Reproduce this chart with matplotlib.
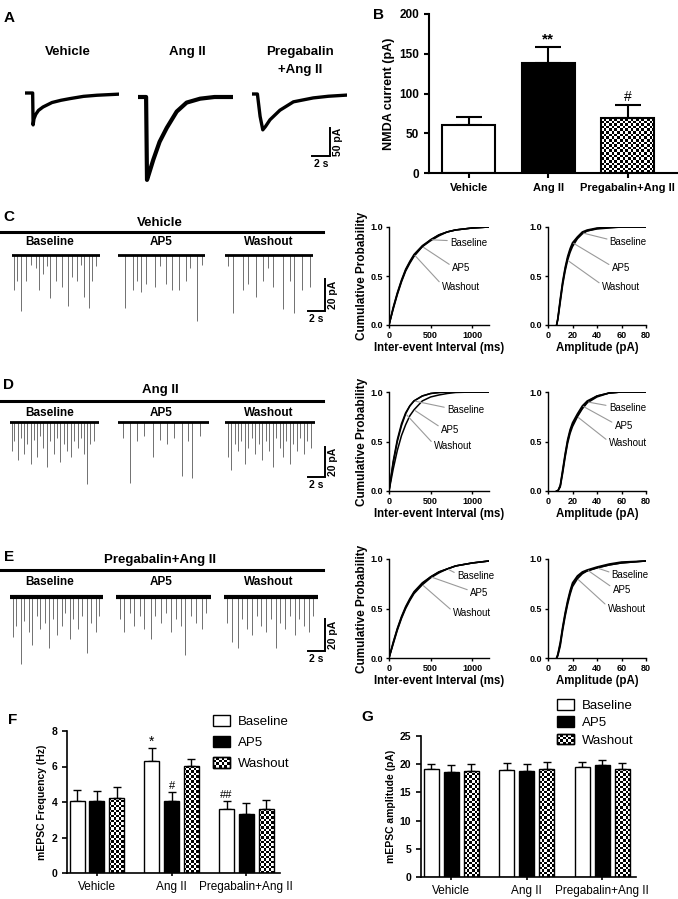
import numpy as np
import matplotlib
matplotlib.use('Agg')
import matplotlib.pyplot as plt
from matplotlib.patches import Patch, Rectangle
from matplotlib.lines import Line2D
from matplotlib.legend_handler import HandlerBase
from matplotlib.ticker import FormatStrFormatter

plt.rcParams['font.family'] = ['Liberation Sans', 'DejaVu Sans']

# ---------------- data ----------------
groups = ['Vehicle', 'Ang II', 'Pregabalin+Ang II']
conds = ['Baseline', 'AP5', 'Washout']

# A: NMDA current traces (s, pA)
veh_t = [0, 0.85, 0.9, 1.0, 1.2, 1.5, 2.0, 2.5, 3.0, 4.0, 5.0, 6.5, 8.0, 10.5]
veh_i = [0, 0, -57, -46, -38, -31, -25, -21, -17, -13, -10, -6, -4, -2]
ang_t = [0, 0.9, 1.0, 1.2, 1.7, 2.4, 3.2, 4.3, 5.4, 6.9, 8.5, 10.5]
ang_i = [0, 0, -148, -138, -112, -80, -55, -26, -10, -3, 0, 0]
preg_t = [0, 0.6, 0.9, 1.2, 1.5, 2.0, 3.1, 4.6, 6.8, 8.5, 10.5]
preg_i = [0, 0, -40, -64, -58, -46, -29, -14, -7, -4, -2]

# B: NMDA current
nmda_mean = [60, 138, 69]
nmda_sem = [10, 20, 16]

# C-E: mEPSC events (time s, amplitude pA)
veh_base_t = [0.2, 0.6, 1.05, 1.7, 2.3, 2.8, 3.2, 3.7, 4.1, 4.55, 5.2, 5.95, 6.6, 7.1, 7.65, 8.1, 8.55, 9.05, 9.5, 9.9]
veh_base_a = [22, 16, 35, 16, 6, 8, 22, 12, 7, 27, 16, 20, 32, 14, 16, 6, 26, 33, 16, 7]
veh_ap5_t = [0.8, 1.8, 2.25, 2.8, 3.4, 4.4, 5.0, 5.75, 6.5, 7.3, 8.1, 8.6, 9.5, 10.0]
veh_ap5_a = [33, 22, 16, 23, 18, 20, 7, 18, 22, 22, 16, 8, 41, 6]
veh_wash_t = [0.4, 1.0, 2.1, 2.7, 3.7, 4.5, 5.1, 5.7, 6.9, 7.7, 8.1, 9.1, 10.1]
veh_wash_a = [7, 36, 22, 18, 26, 16, 8, 20, 34, 16, 36, 22, 20]

ang_base_t = [0.2, 0.5, 0.9, 1.3, 1.6, 2.0, 2.4, 2.8, 3.1, 3.5, 3.9, 4.3, 4.7, 5.1, 5.5, 5.9, 6.3, 6.7, 7.1, 7.5, 7.9, 8.3, 8.7, 9.0, 9.4, 9.8]
ang_base_a = [18, 12, 24, 10, 20, 14, 26, 11, 22, 9, 16, 28, 12, 20, 10, 25, 14, 18, 22, 12, 16, 10, 20, 39, 14, 12]
ang_ap5_t = [0.6, 1.4, 2.2, 3.0, 4.0, 4.8, 5.6, 6.4, 7.3, 8.0, 8.5, 9.4]
ang_ap5_a = [10, 38, 12, 9, 22, 11, 14, 10, 34, 12, 35, 9]
ang_wash_t = [0.3, 0.7, 1.1, 1.5, 1.9, 2.3, 2.7, 3.1, 3.5, 3.9, 4.3, 4.7, 5.1, 5.5, 5.9, 6.3, 6.7, 7.1, 7.5, 7.9, 8.3, 8.7, 9.1, 9.5, 9.9]
ang_wash_a = [22, 30, 14, 18, 12, 26, 16, 10, 20, 14, 24, 12, 18, 28, 10, 16, 22, 12, 26, 14, 18, 10, 20, 12, 16]

preg_base_t = [0.3, 0.7, 1.2, 1.6, 2.1, 2.5, 3.0, 3.4, 3.9, 4.4, 4.8, 5.3, 5.8, 6.2, 6.7, 7.1, 7.6, 8.0, 8.6, 9.1, 9.6, 10.0]
preg_base_a = [25, 18, 42, 15, 22, 30, 12, 20, 16, 32, 14, 24, 18, 10, 26, 14, 20, 12, 35, 16, 22, 12]
preg_ap5_t = [0.4, 0.9, 1.5, 2.0, 2.6, 3.1, 3.8, 4.3, 4.9, 5.5, 6.0, 6.6, 7.1, 7.6, 8.2, 8.8, 9.4, 9.9]
preg_ap5_a = [14, 22, 10, 18, 12, 20, 26, 12, 16, 10, 22, 14, 18, 36, 12, 16, 20, 10]
preg_wash_t = [0.3, 0.9, 1.5, 2.0, 2.5, 3.1, 3.6, 4.1, 4.7, 5.2, 5.7, 6.2, 6.8, 7.3, 7.8, 8.3, 8.9, 9.4, 9.9]
preg_wash_a = [16, 28, 32, 14, 20, 24, 12, 18, 22, 14, 32, 16, 20, 12, 24, 14, 18, 22, 12]

# cumulative probability curves
iei_x = [0, 50, 100, 150, 200, 250, 300, 400, 500, 600, 700, 800, 1000, 1200]
veh_iei_base = [0, .17, .32, .45, .56, .64, .71, .80, .87, .92, .95, .97, .99, 1.0]
veh_iei_ap5 = [0, .16, .31, .44, .55, .63, .70, .80, .86, .91, .95, .97, .99, 1.0]
veh_iei_wash = [0, .18, .33, .46, .57, .65, .72, .81, .87, .92, .95, .97, .99, 1.0]
ang_iei_base = [0, .30, .52, .68, .79, .86, .91, .96, .985, .995, 1, 1, 1, 1]
ang_iei_ap5 = [0, .22, .41, .56, .67, .76, .82, .91, .95, .97, .985, .995, 1, 1]
ang_iei_wash = [0, .28, .50, .66, .78, .86, .91, .96, .985, .995, 1, 1, 1, 1]
preg_iei_base = [0, .15, .29, .41, .51, .59, .66, .75, .82, .87, .90, .93, .96, .98]
preg_iei_ap5 = [0, .16, .30, .42, .52, .60, .67, .76, .82, .87, .90, .93, .96, .98]
preg_iei_wash = [0, .14, .28, .40, .50, .58, .65, .74, .81, .86, .90, .93, .96, .98]

amp_x = [7, 8, 10, 12, 14, 16, 18, 20, 24, 28, 32, 40, 50, 60, 80]
veh_amp_base = [0, .06, .25, .43, .57, .68, .76, .82, .89, .94, .96, .985, .995, 1, 1]
veh_amp_ap5 = [0, .07, .27, .45, .59, .70, .78, .84, .90, .95, .97, .99, 1, 1, 1]
veh_amp_wash = [0, .05, .23, .41, .55, .66, .74, .80, .88, .93, .96, .98, .99, 1, 1]
ang_amp_base = [0, 0, .05, .20, .36, .50, .60, .67, .76, .84, .90, .96, .99, 1, 1]
ang_amp_ap5 = [0, 0, .06, .22, .38, .52, .62, .69, .78, .86, .91, .96, .99, 1, 1]
ang_amp_wash = [0, 0, .04, .18, .34, .48, .58, .65, .75, .83, .89, .95, .99, 1, 1]
preg_amp_base = [0, .03, .14, .30, .44, .56, .66, .74, .82, .86, .88, .91, .94, .96, .98]
preg_amp_ap5 = [0, .04, .16, .32, .46, .58, .68, .76, .83, .87, .89, .92, .95, .97, .98]
preg_amp_wash = [0, .02, .12, .28, .42, .54, .64, .72, .80, .85, .88, .91, .94, .96, .98]

# F: mEPSC frequency (Hz)
freq_base = [4.07, 6.33, 3.58]
freq_base_sem = [0.6, 0.69, 0.47]
freq_ap5 = [4.03, 4.03, 3.33]
freq_ap5_sem = [0.6, 0.51, 0.59]
freq_wash = [4.24, 6.05, 3.6]
freq_wash_sem = [0.62, 0.35, 0.54]

# G: mEPSC amplitude (pA)
ampl_base = [19.1, 18.9, 19.5]
ampl_base_sem = [0.9, 1.4, 0.9]
ampl_ap5 = [18.6, 18.8, 19.8]
ampl_ap5_sem = [1.2, 1.3, 1.0]
ampl_wash = [18.8, 19.2, 19.2]
ampl_wash_sem = [1.3, 1.2, 1.0]

# ---------------- helpers ----------------
W, H = 678, 899
fig = plt.figure(figsize=(W / 100, H / 100), dpi=100)


def px_axes(x0, y0, x1, y1):
    return fig.add_axes([x0 / W, 1 - y1 / H, (x1 - x0) / W, (y1 - y0) / H])


def ftext(x, y, s, **kw):
    kw.setdefault('ha', 'center')
    kw.setdefault('va', 'center')
    fig.text(x / W, 1 - y / H, s, **kw)


def fline(xs, ys, **kw):
    fig.add_artist(Line2D([x / W for x in xs], [1 - y / H for y in ys],
                          transform=fig.transFigure, **kw))


def scale_bar(xl, xr, yt, yb, vlab, hlab):
    fline([xl, xr, xr], [yb, yb, yt], color='black', lw=1.4, solid_joinstyle='miter')
    ftext(xr + 8, (yt + yb) / 2, vlab, rotation=90, fontsize=7.5, weight='bold')
    ftext((xl + xr) / 2, yb + 8, hlab, fontsize=7.5, weight='bold')


def checker_fill(ax, bars, cell=2.6):
    for b in bars:
        x0, y0, w, h = b.get_x(), b.get_y(), b.get_width(), b.get_height()
        (p0x, p0y), (p1x, p1y) = ax.transData.transform([(x0, y0), (x0 + w, y0 + h)])
        nx = max(1, int(round((p1x - p0x) / cell)))
        ny = max(1, int(round((p1y - p0y) / cell)))
        grid = np.indices((ny, nx)).sum(axis=0) % 2
        im = ax.imshow(grid, cmap='gray_r', extent=(x0, x0 + w, y0, y0 + h), origin='lower',
                       interpolation='nearest', aspect='auto', zorder=0.8)
        im.set_clip_path(b)


class CheckerHandler(HandlerBase):
    def create_artists(self, legend, orig_handle, xdescent, ydescent, width, height, fontsize, trans):
        arts = [Rectangle((-xdescent, -ydescent), width, height, fc='white', ec='black',
                          lw=1.0, transform=trans)]
        nx, ny = 6, 4
        cw, ch = width / nx, height / ny
        for i in range(nx):
            for j in range(ny):
                if (i + j) % 2 == 0:
                    arts.append(Rectangle((-xdescent + i * cw, -ydescent + j * ch), cw, ch,
                                          fc='black', ec='none', transform=trans))
        arts.append(Rectangle((-xdescent, -ydescent), width, height, fc='none', ec='black',
                              lw=1.0, transform=trans))
        return arts


def style_axes(ax, lw):
    for s in ['top', 'right']:
        ax.spines[s].set_visible(False)
    for s in ['left', 'bottom']:
        ax.spines[s].set_linewidth(lw)
    ax.tick_params(direction='out', width=lw, length=3.5)


# ---------------- panel A ----------------
ftext(9, 18, 'A', fontsize=11, weight='bold')
ftext(68, 52, 'Vehicle', fontsize=9.5, weight='bold')
ftext(187, 52, 'Ang II', fontsize=9.5, weight='bold')
ftext(300, 52, 'Pregabalin', fontsize=9.5, weight='bold')
ftext(300, 70, '+Ang II', fontsize=9.5, weight='bold')

pa_s, pa_pA = 9.0, 0.56
for t, i, x0, base, lw in [(veh_t, veh_i, 25, 93, 2.4), (ang_t, ang_i, 138, 97, 3.0),
                           (preg_t, preg_i, 252, 94, 2.4)]:
    ax = px_axes(x0, base - 15 * pa_pA, x0 + 10.5 * pa_s, base + 160 * pa_pA)
    ax.plot(t, i, color='black', lw=lw, solid_joinstyle='round')
    ax.set_xlim(0, 10.5)
    ax.set_ylim(-160, 15)
    ax.axis('off')
scale_bar(312, 330, 128, 156, '50 pA', '2 s')

# ---------------- panel B ----------------
ftext(378, 15, 'B', fontsize=11, weight='bold')
axb = px_axes(429, 14, 678, 173)
xb = np.arange(3)
bb = axb.bar(xb, nmda_mean, width=0.667, color=['white', 'black', 'none'],
             edgecolor='black', lw=1.5, zorder=1)
axb.errorbar(xb, nmda_mean, yerr=[np.zeros(3), nmda_sem], fmt='none', ecolor='black',
             elinewidth=1.5, capsize=9.5, capthick=1.5, zorder=0.9)
axb.set_xlim(-0.5, 2.63)
axb.set_ylim(0, 200)
checker_fill(axb, [bb[2]])
axb.set_xlim(-0.5, 2.63)
axb.set_ylim(0, 200)
axb.set_yticks([0, 50, 100, 150, 200])
axb.set_xticks(xb)
axb.set_xticklabels(groups, fontsize=8, weight='bold')
for lab in axb.get_yticklabels():
    lab.set_fontsize(8.5)
    lab.set_fontweight('bold')
axb.set_ylabel('NMDA current (pA)', fontsize=9, weight='bold', labelpad=3)
style_axes(axb, 1.5)
axb.annotate('**', xy=(1, nmda_mean[1] + nmda_sem[1]), xytext=(0, 1), textcoords='offset points',
             ha='center', va='bottom', fontsize=11, weight='bold')
axb.annotate('#', xy=(2, nmda_mean[2] + nmda_sem[2]), xytext=(0, 1), textcoords='offset points',
             ha='center', va='bottom', fontsize=10)

# ---------------- panels C-E traces ----------------
tr_pA = 1.6
rows = [
    ('C', 'Vehicle', 217, 223, 232, 242, 255, [12, 118, 225], [88, 87, 88],
     [(veh_base_t, veh_base_a), (veh_ap5_t, veh_ap5_a), (veh_wash_t, veh_wash_a)], 2.0, (279, 311)),
    ('D', 'Ang II', 385, 390, 401, 413, 422, [10, 118, 225], [89, 91, 90],
     [(ang_base_t, ang_base_a), (ang_ap5_t, ang_ap5_a), (ang_wash_t, ang_wash_a)], 2.0, (447, 477)),
    ('E', 'Pregabalin+Ang II', 557, 560, 570, 582, 597, [10, 116, 224], [93, 95, 94],
     [(preg_base_t, preg_base_a), (preg_ap5_t, preg_ap5_a), (preg_wash_t, preg_wash_a)], 3.0, (619, 651)),
]
for letter, title, ly, ty, ry, cy, base, xs0, widths, traces, blw, (sb_t, sb_b) in rows:
    ftext(9, ly, letter, fontsize=11, weight='bold')
    ftext(160, ty, title, fontsize=9.5, weight='bold')
    fline([0, 323], [ry, ry], color='black', lw=2.2)
    for cx, cname in zip([50, 161, 269], conds):
        ftext(cx, cy, cname, fontsize=8.5, weight='bold')
    for x0, w, (t, a) in zip(xs0, widths, traces):
        ax = px_axes(x0, base - 5 * tr_pA, x0 + w, base + 45 * tr_pA)
        ax.vlines(t, -np.array(a), 0, color='#707070', lw=0.7, zorder=1)
        ax.axhline(0, color='black', lw=blw, zorder=2)
        ax.set_xlim(0, 10.4)
        ax.set_ylim(-45, 5)
        ax.axis('off')
    scale_bar(308, 325, sb_t, sb_b, '20 pA', '2 s')

# ---------------- cumulative probability panels ----------------
cum_rows = [
    (227, 325,
     (veh_iei_base, veh_iei_ap5, veh_iei_wash), (8, 7, 6), [(0.61, 0.84), (0.63, 0.58), (0.53, 0.39)],
     (veh_amp_base, veh_amp_ap5, veh_amp_wash), (9, 7, 5), [(0.63, 0.85), (0.65, 0.58), (0.55, 0.39)]),
    (392, 491,
     (ang_iei_base, ang_iei_ap5, ang_iei_wash), (6, 6, 4), [(0.58, 0.82), (0.52, 0.62), (0.45, 0.45)],
     (ang_amp_base, ang_amp_ap5, ang_amp_wash), (10, 9, 8), [(0.62, 0.84), (0.68, 0.66), (0.62, 0.48)]),
    (559, 658,
     (preg_iei_base, preg_iei_ap5, preg_iei_wash), (10, 8, 7), [(0.68, 0.83), (0.81, 0.66), (0.64, 0.45)],
     (preg_amp_base, preg_amp_ap5, preg_amp_wash), (11, 10, 8), [(0.65, 0.84), (0.66, 0.69), (0.61, 0.50)]),
]


def cum_panel(x0, x1, yt, yb, xs, curves, idxs, tpos, xlim, xticks, xlabel, ylabel):
    ax = px_axes(x0, yt, x1, yb)
    for c in curves:
        ax.plot(xs, c, color='black', lw=1.1)
    for name, c, k, (tx, ty) in zip(conds, curves, idxs, tpos):
        ax.annotate(name, xy=(xs[k], c[k]), xytext=(tx, ty), textcoords='axes fraction',
                    fontsize=7, ha='left', va='center',
                    arrowprops=dict(arrowstyle='-', color='#9a9a9a', lw=0.8,
                                    shrinkA=0, shrinkB=1, relpos=(0, 0.7)))
    ax.set_xlim(*xlim)
    ax.set_ylim(0, 1)
    ax.set_xticks(xticks)
    ax.set_yticks([0, 0.5, 1.0])
    ax.yaxis.set_major_formatter(FormatStrFormatter('%.1f'))
    style_axes(ax, 1.0)
    ax.tick_params(length=2.5, pad=1.5)
    for lab in ax.get_xticklabels() + ax.get_yticklabels():
        lab.set_fontsize(6.5)
        lab.set_fontweight('bold')
    ax.set_xlabel(xlabel, fontsize=8.3, weight='bold', labelpad=2)
    if ylabel:
        ax.set_ylabel(ylabel, fontsize=8.5, weight='bold', labelpad=2)
    return ax


for yt, yb, ic, ii, itp, ac, ai, atp in cum_rows:
    cum_panel(389, 489, yt, yb, iei_x, ic, ii, itp, (0, 1200), [0, 500, 1000],
              'Inter-event Interval (ms)', 'Cumulative Probability')
    cum_panel(548, 646, yt, yb, amp_x, ac, ai, atp, (0, 80), [0, 20, 40, 60, 80],
              'Amplitude (pA)', None)


# ---------------- panels F, G ----------------
def group_bars(ax, means, sems, ylim, yticks, ylabel, capsize):
    xg = np.arange(3)
    off = 0.265
    bw = 0.2
    colors = ['white', 'black', 'none']
    wash_bars = None
    for k, (m, s) in enumerate(zip(means, sems)):
        bars = ax.bar(xg + (k - 1) * off, m, width=bw, color=colors[k], edgecolor='black',
                      lw=1.0, zorder=1)
        ax.errorbar(xg + (k - 1) * off, m, yerr=[np.zeros(3), s], fmt='none', ecolor='black',
                    elinewidth=1.0, capsize=capsize, capthick=1.0, zorder=0.9)
        if k == 2:
            wash_bars = bars
    ax.set_xlim(-0.4, 2.45)
    ax.set_ylim(*ylim)
    checker_fill(ax, wash_bars, cell=2.5)
    ax.set_xlim(-0.4, 2.45)
    ax.set_ylim(*ylim)
    ax.set_yticks(yticks)
    ax.set_xticks(xg)
    ax.set_xticklabels(groups, fontsize=8.5)
    for lab in ax.get_yticklabels():
        lab.set_fontsize(7.5)
        lab.set_fontweight('bold')
    ax.set_ylabel(ylabel, fontsize=7.5, weight='bold', labelpad=3)
    style_axes(ax, 1.2)
    ax.tick_params(axis='x', length=2.5)


leg_handles = [Patch(fc='white', ec='black', lw=1.0), Patch(fc='black', ec='black', lw=1.0),
               Patch(fc='white', ec='black', lw=1.0)]
hmap = {leg_handles[2]: CheckerHandler()}

ftext(13, 720, 'F', fontsize=11, weight='bold')
axf = px_axes(67, 731, 280, 873)
group_bars(axf, [freq_base, freq_ap5, freq_wash], [freq_base_sem, freq_ap5_sem, freq_wash_sem],
           (0, 8), [0, 2, 4, 6, 8], 'mEPSC Frequency (Hz)', 2.7)
axf.annotate('*', xy=(1 - 0.265, freq_base[1] + freq_base_sem[1]), xytext=(0, 0),
             textcoords='offset points', ha='center', va='bottom', fontsize=10)
axf.annotate('#', xy=(1, freq_ap5[1] + freq_ap5_sem[1]), xytext=(0, 1),
             textcoords='offset points', ha='center', va='bottom', fontsize=8)
axf.annotate('##', xy=(2 - 0.265, freq_base[2] + freq_base_sem[2]), xytext=(0, 1),
             textcoords='offset points', ha='center', va='bottom', fontsize=8)
axf.legend(leg_handles, conds, handler_map=hmap, loc='upper left', frameon=False,
           bbox_to_anchor=(213 / W, 1 - 715 / H), bbox_transform=fig.transFigure,
           borderpad=0, borderaxespad=0, fontsize=9.5, handlelength=1.3, handleheight=0.85,
           handletextpad=0.6, labelspacing=0.62)

ftext(367, 717, 'G', fontsize=11, weight='bold')
axg = px_axes(421, 736, 636, 877)
group_bars(axg, [ampl_base, ampl_ap5, ampl_wash], [ampl_base_sem, ampl_ap5_sem, ampl_wash_sem],
           (0, 25), [0, 5, 10, 15, 20, 25], 'mEPSC amplitude (pA)', 3.2)
axg.legend(leg_handles, conds, handler_map=hmap, loc='upper left', frameon=False,
           bbox_to_anchor=(557 / W, 1 - 699 / H), bbox_transform=fig.transFigure,
           borderpad=0, borderaxespad=0, fontsize=9.5, handlelength=1.3, handleheight=0.85,
           handletextpad=0.6, labelspacing=0.35)

fig.savefig('out.png', dpi=100)
